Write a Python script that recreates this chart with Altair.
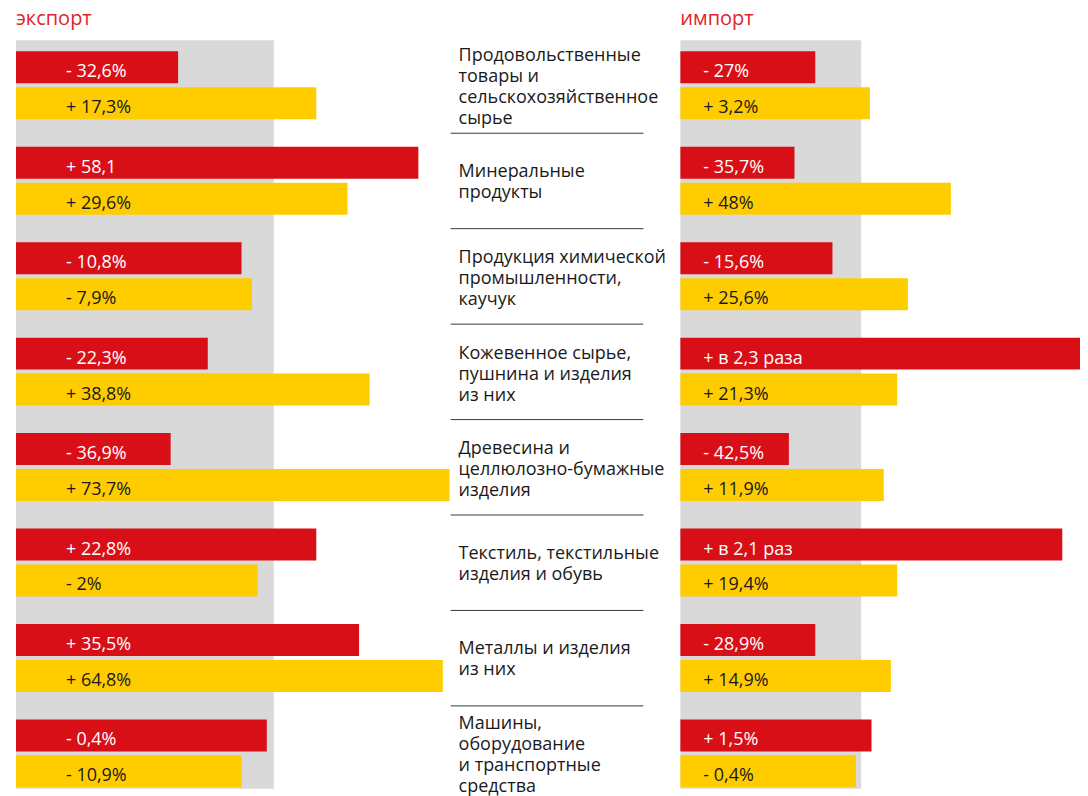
import altair as alt
import pandas as pd

# ---- data ----
categories = [
    "Продовольственные\nтовары и\nсельскохозяйственное\nсырье",
    "Минеральные\nпродукты",
    "Продукция химической\nпромышленности,\nкаучук",
    "Кожевенное сырье,\nпушнина и изделия\nиз них",
    "Древесина и\nцеллюлозно-бумажные\nизделия",
    "Текстиль, текстильные\nизделия и обувь",
    "Металлы и изделия\nиз них",
    "Машины,\nоборудование\nи транспортные\nсредства",
]
series = ["ряд 1", "ряд 2"]

# bar lengths, in units where the grey band = 100
export_red = [62.9, 156.1, 87.5, 74.4, 60.0, 116.5, 133.1, 97.3]
export_yellow = [116.5, 128.6, 91.5, 137.2, 168.2, 93.7, 165.6, 87.5]
export_red_labels = ["- 32,6%", "+ 58,1", "- 10,8%", "- 22,3%", "- 36,9%", "+ 22,8%", "+ 35,5%", "- 0,4%"]
export_yellow_labels = ["+ 17,3%", "+ 29,6%", "- 7,9%", "+ 38,8%", "+ 73,7%", "- 2%", "+ 64,8%", "- 10,9%"]

import_red = [74.6, 63.1, 84.1, 230.0, 60.0, 211.2, 74.6, 105.7]
import_yellow = [104.8, 149.6, 125.8, 119.9, 112.5, 119.9, 116.4, 97.1]
import_red_labels = ["- 27%", "- 35,7%", "- 15,6%", "+ в 2,3 раза", "- 42,5%", "+ в 2,1 раз", "- 28,9%", "+ 1,5%"]
import_yellow_labels = ["+ 3,2%", "+ 48%", "+ 25,6%", "+ 21,3%", "+ 11,9%", "+ 19,4%", "+ 14,9%", "- 0,4%"]

band_start = [0]
band_end = [100]

RED = "#d90f17"
YELLOW = "#ffcc00"
GREY = "#d9d9d9"
TITLE_RED = "#e1232b"
DARK = "#1a1a1a"
H = 780


def long_df(red, yellow, red_lab, yellow_lab):
    rows = []
    for c, r, y, rl, yl in zip(categories, red, yellow, red_lab, yellow_lab):
        rows.append({"category": c, "series": series[0], "value": r, "label": rl})
        rows.append({"category": c, "series": series[1], "value": y, "label": yl})
    return pd.DataFrame(rows)


export_df = long_df(export_red, export_yellow, export_red_labels, export_yellow_labels)
import_df = long_df(import_red, import_yellow, import_red_labels, import_yellow_labels)
band_df = pd.DataFrame({"start": band_start, "end": band_end})

yscale = alt.Scale(domain=categories, paddingInner=0.2882, paddingOuter=0.2266,
                   align=0.97, round=False)
y_enc = alt.Y("category:N", scale=yscale, axis=None)
yoff = alt.YOffset("series:N", scale=alt.Scale(domain=series, paddingInner=0.111,
                                               paddingOuter=0, round=False))


def panel(df, width, px_per_unit, title, label_x):
    xs = alt.Scale(domain=[0, width / px_per_unit], clamp=True, nice=False, zero=True)
    band = alt.Chart(band_df).mark_rect(color=GREY).encode(
        x=alt.X("start:Q", scale=xs, axis=None),
        x2="end:Q",
        y=alt.value(31),
        y2=alt.value(H),
    )
    bars = alt.Chart(df).mark_bar().encode(
        x=alt.X("value:Q", scale=xs, axis=None),
        y=y_enc,
        yOffset=yoff,
        color=alt.condition(alt.datum.series == series[0], alt.value(RED), alt.value(YELLOW)),
    )
    labels = alt.Chart(df).mark_text(
        align="left", baseline="alphabetic", dy=10, fontSize=18
    ).encode(
        x=alt.value(label_x),
        y=y_enc,
        yOffset=yoff,
        text="label:N",
        color=alt.condition(alt.datum.series == series[0], alt.value("#ffffff"), alt.value(DARK)),
    )
    ttl = alt.Chart(pd.DataFrame({"t": [title]})).mark_text(
        align="left", baseline="alphabetic", fontSize=20, color=TITLE_RED
    ).encode(x=alt.value(0), y=alt.value(15.5), text="t:N")
    return alt.layer(band, bars, labels, ttl).properties(width=width, height=H)


left = panel(export_df, 434, 2.58, "экспорт", 50)
right = panel(import_df, 400, 1.81, "импорт", 23)

# category labels, one layer per number of lines so each block is centred on its pair of bars
text_layers = []
for n_lines, shift in [(2, -8.5), (3, -18.0), (4, -29.0)]:
    subset = [c for c in categories if c.count("\n") + 1 == n_lines]
    text_layers.append(
        alt.Chart(pd.DataFrame({"category": subset})).mark_text(
            align="left", baseline="middle", lineBreak="\n", lineHeight=21,
            fontSize=18, color=DARK, dy=shift
        ).encode(x=alt.value(8), y=y_enc, text="category:N")
    )

rules = alt.Chart(pd.DataFrame({"category": categories[:-1]})).mark_rule(
    color="#3a3a3a", strokeWidth=1, yOffset=14
).encode(
    y=alt.Y("category:N", scale=yscale, axis=None, bandPosition=1),
    x=alt.value(0),
    x2=alt.value(193),
)

middle = alt.layer(rules, *text_layers).properties(width=230, height=H)

chart = alt.hconcat(left, middle, right, spacing=0).properties(
    padding={"left": 8, "top": 0, "right": 0, "bottom": 0}
).configure(font="Open Sans").configure_view(strokeWidth=0)

chart.save("out.html", embed_options={"renderer": "svg", "actions": False})
